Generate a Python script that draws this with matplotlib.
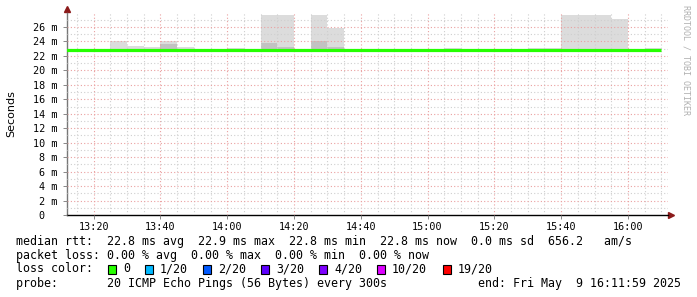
import numpy as np
import matplotlib
matplotlib.use("Agg")
import matplotlib.pyplot as plt
from matplotlib.patches import Rectangle

# 5-minute slots (start time of each slot)
slot_times = ["13:10", "13:15", "13:20", "13:25", "13:30", "13:35", "13:40", "13:45",
              "13:50", "13:55", "14:00", "14:05", "14:10", "14:15", "14:20", "14:25",
              "14:30", "14:35", "14:40", "14:45", "14:50", "14:55", "15:00", "15:05",
              "15:10", "15:15", "15:20", "15:25", "15:30", "15:35", "15:40", "15:45",
              "15:50", "15:55", "16:00", "16:05"]

# median rtt in ms
median_ms = [22.8, 22.8, 22.8, 22.8, 22.8, 22.8, 22.8, 22.8,
             22.8, 22.8, 22.8, 22.8, 22.8, 22.8, 22.8, 22.8,
             22.8, 22.8, 22.8, 22.85, 22.8, 22.8, 22.85, 22.8,
             22.8, 22.8, 22.8, 22.8, 22.8, 22.8, 22.8, 22.8,
             22.8, 22.8, 22.8, 22.8]

# smoke: lowest ping, dense part top, highest ping (ms)
smoke_lo = [22.6] * 36
smoke_dark = [22.6, 22.6, 22.6, 23.0, 22.6, 22.6, 23.6, 22.6,
              22.6, 22.6, 22.6, 22.6, 23.8, 23.2, 22.6, 24.0,
              23.2, 22.6, 22.6, 22.6, 22.6, 22.6, 22.6, 22.6,
              22.6, 22.6, 22.6, 22.6, 22.6, 22.6, 22.6, 22.6,
              22.6, 22.6, 22.6, 22.6]
smoke_hi = [22.9, 22.9, 22.9, 24.0, 23.4, 23.2, 24.0, 23.2,
            22.9, 22.9, 23.1, 22.9, 27.7, 27.7, 22.9, 27.7,
            25.8, 22.9, 22.9, 22.9, 22.9, 22.9, 22.9, 23.1,
            22.9, 22.9, 22.9, 22.9, 23.1, 23.1, 27.7, 27.7,
            27.7, 27.1, 22.9, 23.1]

xtick_labels = ["13:20", "13:40", "14:00", "14:20", "14:40", "15:00", "15:20", "15:40", "16:00"]
ytick_values = [0, 2, 4, 6, 8, 10, 12, 14, 16, 18, 20, 22, 24, 26]

loss_labels = ["0", "1/20", "2/20", "3/20", "4/20", "10/20", "19/20"]
loss_colors = ["#26ff00", "#00b8ff", "#0059ff", "#5e00ff", "#7e00ff", "#dd00ff", "#ff0000"]


def to_min(s):
    h, m = s.split(":")
    return (int(h) - 13) * 60 + int(m)


W, H = 697, 297
fig = plt.figure(figsize=(W / 100, H / 100), dpi=100)
ax = fig.add_axes([67 / W, 82 / H, 601 / W, 202 / H])

starts = np.array([to_min(t) for t in slot_times])
edges = np.append(starts, starts[-1] + 5)

ax.bar(starts, np.array(smoke_hi) - np.array(smoke_lo), bottom=smoke_lo, width=5,
       align="edge", color="#dcdcdc", linewidth=0, zorder=1)
ax.bar(starts, np.array(smoke_dark) - np.array(smoke_lo), bottom=smoke_lo, width=5,
       align="edge", color="#c2c2c2", linewidth=0, zorder=1.1)

ax.stairs(median_ms, edges, color="#26ff00", linewidth=2.3, zorder=3, baseline=None)

ax.set_xlim(12, 192)
ax.set_ylim(0, 27.94)

ax.set_xticks([to_min(t) for t in xtick_labels])
ax.set_xticklabels(xtick_labels)
ax.set_xticks(np.arange(15, 192, 5), minor=True)
ax.set_yticks(ytick_values)
ax.set_yticklabels(["0\u00a0\u00a0"] + ["%d m" % v for v in ytick_values[1:]])
ax.set_yticks(np.arange(1, 28, 2), minor=True)

ax.set_axisbelow(False)
ax.grid(which="major", color="#eaa0a0", linestyle=(0, (1, 2)), linewidth=0.8)
ax.grid(which="minor", color="#cfcfcf", linestyle=(0, (1, 2)), linewidth=0.8)

for lab in ax.get_xticklabels() + ax.get_yticklabels():
    lab.set_family("DejaVu Sans Mono")
    lab.set_fontsize(7.3)
ax.tick_params(which="major", length=3, width=0.7, color="#888888", pad=2)
ax.tick_params(which="minor", length=0)
ax.tick_params(axis="y", pad=4)

for s in ["top", "right"]:
    ax.spines[s].set_visible(False)
ax.spines["left"].set_color("#777777")
ax.spines["bottom"].set_color("#000000")
ax.spines["left"].set_linewidth(1.0)
ax.spines["bottom"].set_linewidth(1.0)

# axis arrows
ax.plot([0], [1.02], marker="^", color="#8b1a1a", markersize=4, transform=ax.transAxes, clip_on=False)
ax.plot([1.005], [0], marker=">", color="#8b1a1a", markersize=4, transform=ax.transAxes, clip_on=False)

fig.text(11 / W, 1 - 114 / H, "Seconds", rotation=90, ha="center", va="center",
         fontsize=8, family="DejaVu Sans")
fig.text(686 / W, 1 - 5 / H, "RRDTOOL / TOBI OETIKER", rotation=270, ha="center", va="top",
         fontsize=6, family="DejaVu Sans Mono", color="#b0b0b0")

mono = dict(family="DejaVu Sans Mono", fontsize=8.4, va="center")
fig.text(16 / W, 1 - 241 / H,
         "median rtt:  22.8 ms avg  22.9 ms max  22.8 ms min  22.8 ms now  0.0 ms sd  656.2   am/s",
         **mono)
fig.text(16 / W, 1 - 255 / H, "packet loss: 0.00 % avg  0.00 % max  0.00 % min  0.00 % now", **mono)
fig.text(16 / W, 1 - 269 / H, "loss color:", **mono)
sq_x = [108, 145, 203, 261, 319, 377, 443]
for x0, lab, col in zip(sq_x, loss_labels, loss_colors):
    fig.patches.append(Rectangle((x0 / W, 1 - 274 / H), 8 / W, 9 / H, transform=fig.transFigure,
                                 facecolor=col, edgecolor="black", linewidth=0.8))
    fig.text((x0 + 15) / W, 1 - 269 / H, lab, **mono)
fig.text(16 / W, 1 - 283 / H, "probe:       20 ICMP Echo Pings (56 Bytes) every 300s", **mono)
fig.text(478 / W, 1 - 283 / H, "end: Fri May  9 16:11:59 2025", **mono)

fig.savefig("out.png", dpi=100)
